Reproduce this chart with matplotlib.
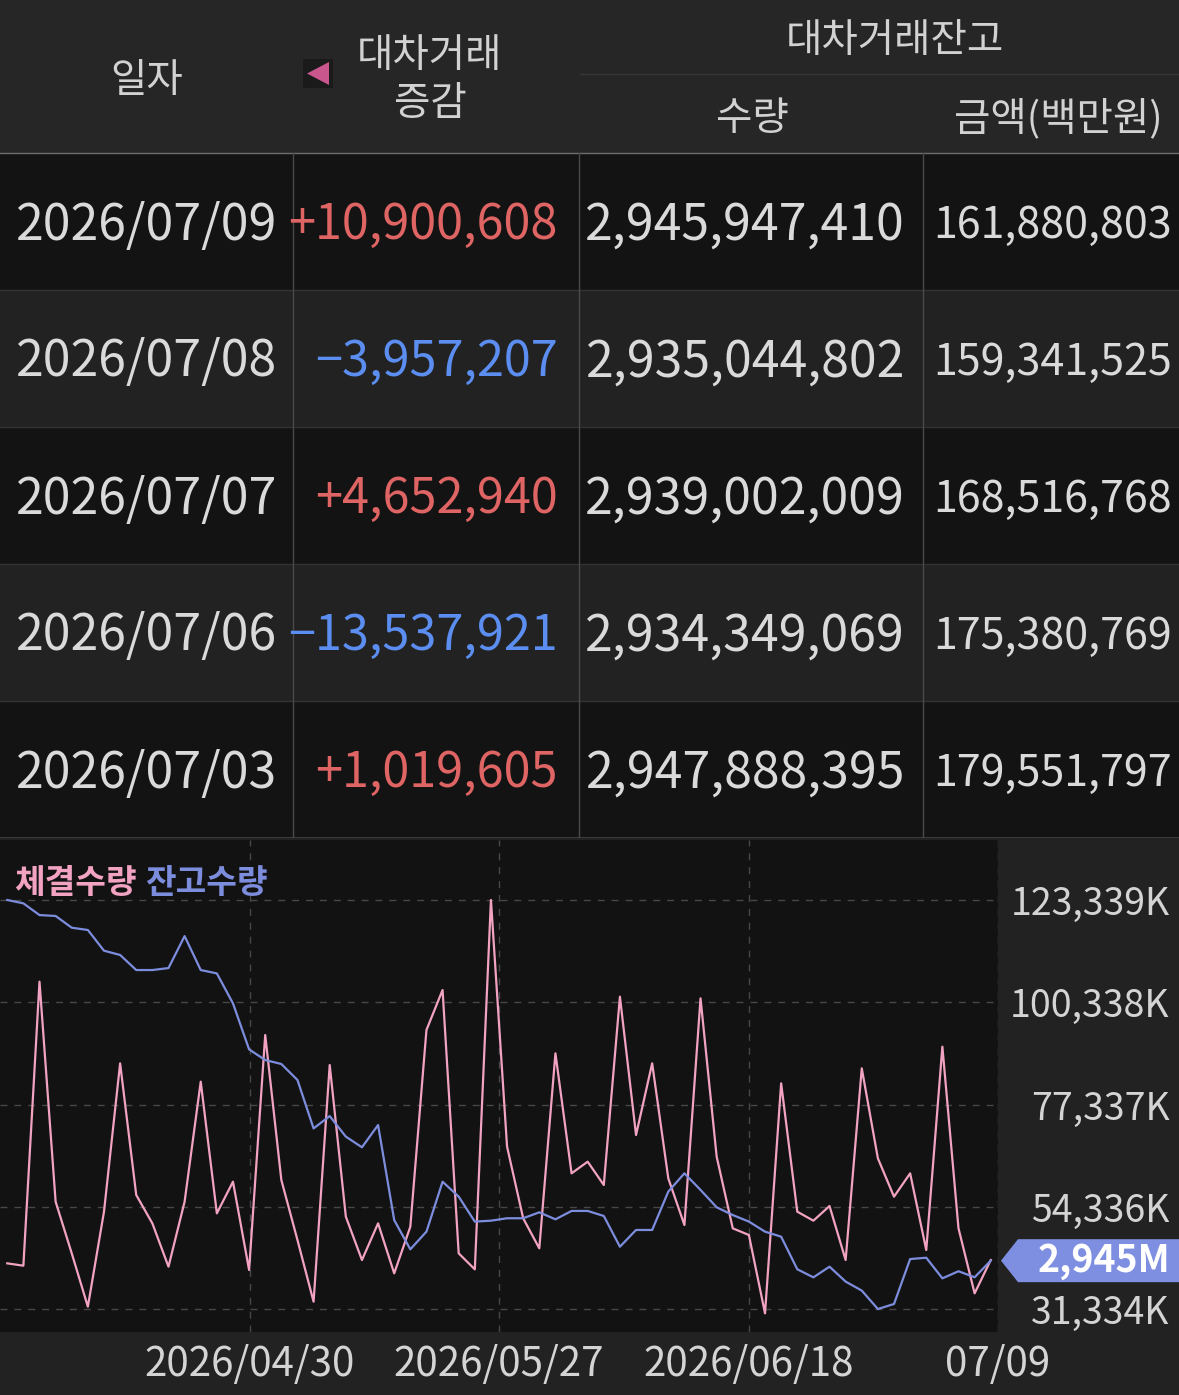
import numpy as np
import matplotlib
matplotlib.use('Agg')
import matplotlib.pyplot as plt
from matplotlib.patches import Rectangle, Polygon

plt.rcParams['font.family'] = ['Noto Sans CJK KR', 'DejaVu Sans']

W, H = 1179, 1395

# table data (newest first)
dates = ['2026/07/09', '2026/07/08', '2026/07/07', '2026/07/06', '2026/07/03']
changes = [10900608, -3957207, 4652940, -13537921, 1019605]
balance_qty = [2945947410, 2935044802, 2939002009, 2934349069, 2947888395]
balance_amt = [161880803, 159341525, 168516768, 175380769, 179551797]

# chart data, oldest -> newest
traded_k = [41643, 41118, 104976, 55509, 43892, 31900, 53261, 86613, 57008, 50637,
            40894, 55509, 82491, 52886, 60006, 40144, 92984, 60381, 46890, 33024,
            86239, 52136, 42393, 50637, 39395, 49888, 94108, 103102, 43892, 40294,
            123339, 67876, 51762, 45016, 88862, 61880, 64503, 59257, 101603, 70499,
            86613, 60756, 50263, 101229, 65627, 49513, 48014, 30401, 82116, 53261,
            51237, 54535, 42393, 85489, 65253, 56633, 61880, 44641, 90361, 49513,
            34898, 42393]
balance_m = [3182.8, 3180.6, 3172.9, 3172.3, 3164.6, 3163.1, 3149.5, 3146.7, 3136.8, 3136.8,
             3138.1, 3159.1, 3136.8, 3134.6, 3114.9, 3084.7, 3077.7, 3075.1, 3064.6, 3032.8,
             3040.9, 3027.4, 3020.4, 3035.0, 2972.6, 2953.4, 2965.0, 2997.8, 2988.0, 2971.6,
             2972.2, 2973.8, 2973.8, 2977.7, 2973.1, 2978.6, 2978.6, 2975.3, 2955.1, 2966.1,
             2966.1, 2991.3, 3003.3, 2992.4, 2981.0, 2975.9, 2971.6, 2965.0, 2961.7, 2940.3,
             2935.0, 2942.0, 2932.2, 2926.3, 2914.2, 2917.5, 2947.0, 2947.888, 2934.349, 2939.002,
             2935.045, 2945.947]
ytick_k = [31334, 54336, 77337, 100338, 123339]
xtick_labels = ['2026/04/30', '2026/05/27', '2026/06/18', '07/09']

PINK = '#f2a3c2'
BLUE = '#7d8ddd'
RED = '#df6464'
NEG = '#5b8ef0'
TXT = '#dadada'
HEAD = '#d2d2d2'

fig = plt.figure(figsize=(W / 100, H / 100), dpi=100)
fig.patch.set_facecolor('#222222')

# ---------- table ----------
TB = 838
ax_t = fig.add_axes([0, 1 - TB / H, 1, TB / H])
ax_t.set_xlim(0, W)
ax_t.set_ylim(TB, 0)
ax_t.axis('off')

head_h, row_h = 153, 137
cols = [0, 293, 579, 923, W]
ax_t.add_patch(Rectangle((0, 0), W, head_h, color='#262626', lw=0))
for i in range(len(dates)):
    y0 = head_h + i * row_h
    ax_t.add_patch(Rectangle((0, y0), W, row_h,
                             color='#131313' if i % 2 == 0 else '#222222', lw=0))
    if i > 0:
        ax_t.plot([0, W], [y0, y0], color='#333333', lw=1)
ax_t.plot([0, W], [head_h, head_h], color='#6e6e6e', lw=1)
ax_t.plot([580, W], [74, 74], color='#363636', lw=1)
ax_t.plot([0, W], [TB - 0.5, TB - 0.5], color='#3a3a3a', lw=1.5)
for cx in cols[1:-1]:
    ax_t.plot([cx, cx], [head_h, TB], color='#4a4a4a', lw=1)

hs = 28.5
ax_t.text(147, 81, '일자', ha='center', va='center', fontsize=hs, color=HEAD)
ax_t.text(430, 56, '대차거래', ha='center', va='center', fontsize=hs, color=HEAD)
ax_t.text(430, 104, '증감', ha='center', va='center', fontsize=hs, color=HEAD)
ax_t.text(895, 41, '대차거래잔고', ha='center', va='center', fontsize=hs, color=HEAD)
ax_t.text(752, 119, '수량', ha='center', va='center', fontsize=hs, color=HEAD)
ax_t.text(1058, 119, '금액(백만원)', ha='center', va='center', fontsize=hs, color=HEAD)
# sort indicator
ax_t.add_patch(Rectangle((303, 59), 30, 29, color='#1a1a1a', lw=0))
ax_t.add_patch(Polygon([(307, 73.5), (329, 62), (329, 85)], closed=True,
                       color='#c9568c', lw=0))

for i, (d, c, q, a) in enumerate(zip(dates, changes, balance_qty, balance_amt)):
    yc = head_h + (i + 0.5) * row_h + 4
    ax_t.text(147, yc, d, ha='center', va='center', fontsize=36, color=TXT)
    sign = '+' if c > 0 else '\u2212'
    ax_t.text(558, yc, f'{sign}{abs(c):,}', ha='right', va='center',
              fontsize=35, color=RED if c > 0 else NEG)
    ax_t.text(905, yc, f'{q:,}', ha='right', va='center', fontsize=36, color=TXT)
    ax_t.text(1172, yc, f'{a:,}', ha='right', va='center', fontsize=31, color=TXT)

# ---------- chart ----------
c_top, c_bot, c_right = 840, 1331.7, 998
ax = fig.add_axes([0, 1 - c_bot / H, c_right / W, (c_bot - c_top) / H])
ax.set_facecolor('#121212')
x = np.arange(len(traded_k))
ax.plot(x, traded_k, color=PINK, lw=1.6)
xmin, xmax = -0.45, len(x) - 1 + 0.45
ax.set_xlim(xmin, xmax)
ax.set_ylim(26276, 136829)
ax.grid(True, color='#474747', lw=1, ls=(0, (5, 5)))
for s in ax.spines.values():
    s.set_visible(False)

ax2 = ax.twinx()
ax2.plot(x, balance_m, color=BLUE, lw=1.6)
ax2.set_ylim(2899.3, 3222.2)
ax2.set_yticks([])
for s in ax2.spines.values():
    s.set_visible(False)

# ticks (after twinx, which moves the host's y ticks to the left)
ax.set_xticks([xmin + (xmax - xmin) * k / 4 for k in range(1, 5)])
ax.set_xticklabels(xtick_labels)
ax.set_yticks(ytick_k)
ax.set_yticklabels([f'{v:,}K' for v in ytick_k])
ax.yaxis.tick_right()
ax.tick_params(axis='y', left=False, right=False, labelleft=False, labelright=True,
               length=0, pad=123.5, labelsize=27, labelcolor='#d4d4d4')
ax.tick_params(axis='x', length=0, pad=9, labelsize=29, labelcolor='#d4d4d4')
for lbl in ax.get_yticklabels():
    lbl.set_ha('right')

# legend
fig.text(14 / W, 1 - 883 / H, '체결수량', ha='left', va='center', fontsize=24,
         fontweight='bold', color=PINK)
fig.text(145 / W, 1 - 883 / H, '잔고수량', ha='left', va='center', fontsize=24,
         fontweight='bold', color=BLUE)

# current balance marker
yd = ax2.transData.transform((x[-1], balance_m[-1]))[1]
hh = 21.5
pts = [(1001, yd), (1018, yd + hh), (W, yd + hh), (W, yd - hh), (1018, yd - hh)]
fig.add_artist(Polygon([(px / W, py / H) for px, py in pts], closed=True,
                       transform=fig.transFigure, color='#7e8ee0', lw=0))
fig.text(1170 / W, yd / H, f'{int(balance_m[-1]):,}M', ha='right', va='center',
         fontsize=27, fontweight='bold', color='white')

fig.savefig('out.png', dpi=100, facecolor=fig.get_facecolor())
